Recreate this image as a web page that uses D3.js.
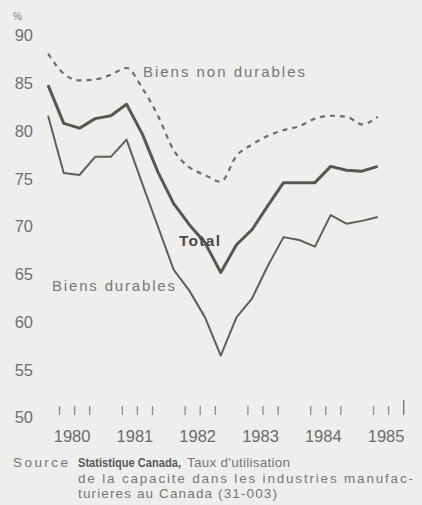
<!DOCTYPE html>
<html>
<head>
<meta charset="utf-8">
<script src="https://cdnjs.cloudflare.com/ajax/libs/d3/7.8.5/d3.min.js"></script>
<style>
    html, body { margin: 0; padding: 0; background: #eeeeec; }
    svg { display: block; font-family: "Liberation Sans", Arial, sans-serif; }
</style>
</head>
<body>
<svg id="chart" width="422" height="505"></svg>
<script>
    // quarterly data, 1980 T1 .. 1985 T2
    const years = [1980, 1981, 1982, 1983, 1984, 1985];
    const yTicks = [50, 55, 60, 65, 70, 75, 80, 85, 90];
    const quarterTickOffsets = [0.3, 0.54, 0.78];

    const total = [84.8, 80.8, 80.3, 81.3, 81.6, 82.8, 79.7, 75.7, 72.4, 70.2, 68.3,
                   65.2, 68.1, 69.7, 72.2, 74.6, 74.6, 74.6, 76.3, 75.9, 75.8, 76.3];
    const durables = [81.6, 75.6, 75.4, 77.3, 77.3, 79.1, 74.5, 70.0, 65.5, 63.3, 60.5,
                      56.5, 60.5, 62.5, 65.9, 68.9, 68.6, 67.9, 71.2, 70.3, 70.6, 71.0];
    const nonDurables = [88.1, 86.0, 85.3, 85.4, 85.9, 86.6, 84.5, 81.6, 78.0, 76.2, 75.4,
                         74.7, 77.4, 78.6, 79.5, 80.1, 80.5, 81.3, 81.6, 81.5, 80.7, 81.5];

    // position of each quarter on the time axis (middle of the quarter)
    const periods = total.map((_, i) => years[0] + Math.floor(i / 4) + ((i % 4) + 0.5) / 4);

    const svg = d3.select('#chart');

    const x = d3.scaleLinear().domain([1980, 1986]).range([40.2, 417]);
    const y = d3.scaleLinear().domain([50, 90]).range([417.7, 35.5]);

    // y axis labels
    svg.append('g')
        .attr('transform', 'translate(35,0)')
        .call(d3.axisLeft(y).tickValues(yTicks).tickSize(0).tickPadding(2))
        .call(g => g.select('.domain').remove())
        .call(g => g.selectAll('text')
            .attr('font-size', 16.5)
            .attr('font-family', '"Liberation Sans", Arial, sans-serif')
            .attr('fill', '#707070'));

    svg.append('text')
        .attr('x', 13).attr('y', 20)
        .attr('font-size', 10)
        .attr('fill', '#808080')
        .text('%');

    // quarter tick marks, grouped by year
    const quarterTicks = years.flatMap(yr => quarterTickOffsets.map(o => yr + o));
    const lastTick = quarterTicks[quarterTicks.length - 1];

    svg.append('g')
        .attr('transform', 'translate(0,415)')
        .call(d3.axisTop(x).tickValues(quarterTicks.slice(0, -1)).tickSize(9).tickFormat(''))
        .call(g => g.select('.domain').remove())
        .call(g => g.selectAll('line').attr('stroke', '#8a8a88').attr('stroke-width', 1.3));

    svg.append('g')
        .attr('transform', 'translate(0,415)')
        .call(d3.axisTop(x).tickValues([lastTick]).tickSize(15).tickFormat(''))
        .call(g => g.select('.domain').remove())
        .call(g => g.selectAll('line').attr('stroke', '#777775').attr('stroke-width', 1.4));

    // year labels
    svg.append('g')
        .attr('transform', 'translate(0,428)')
        .call(d3.axisBottom(x).tickValues(years.map(yr => yr + 0.5)).tickSize(0).tickPadding(2)
            .tickFormat(d => Math.floor(d)))
        .call(g => g.select('.domain').remove())
        .call(g => g.selectAll('text')
            .attr('font-size', 16.5)
            .attr('font-family', '"Liberation Sans", Arial, sans-serif')
            .attr('fill', '#6a6a6a'));

    // series
    const line = d3.line()
        .x((d, i) => x(periods[i]))
        .y(d => y(d));

    svg.append('path')
        .attr('d', line.curve(d3.curveMonotoneX)(nonDurables))
        .attr('fill', 'none')
        .attr('stroke', '#6e6e6c')
        .attr('stroke-width', 2.2)
        .attr('stroke-dasharray', '5,5');

    svg.append('path')
        .attr('d', line.curve(d3.curveLinear)(durables))
        .attr('fill', 'none')
        .attr('stroke', '#60605a')
        .attr('stroke-width', 2)
        .attr('stroke-linejoin', 'round');

    svg.append('path')
        .attr('d', line.curve(d3.curveLinear)(total))
        .attr('fill', 'none')
        .attr('stroke', '#585853')
        .attr('stroke-width', 3)
        .attr('stroke-linejoin', 'round');

    // series labels
    const labels = [
        { text: 'Biens non durables', t: 1981.637, v: 85.7, len: 162, bold: false },
        { text: 'Total', t: 1982.21, v: 68.0, len: 41, bold: true },
        { text: 'Biens durables', t: 1980.188, v: 63.25, len: 123, bold: false }
    ];

    svg.selectAll('.series-label')
        .data(labels)
        .join('text')
        .attr('class', 'series-label')
        .attr('x', d => x(d.t))
        .attr('y', d => y(d.v))
        .attr('font-size', d => d.bold ? 15.5 : 15)
        .attr('font-weight', d => d.bold ? 'bold' : 'normal')
        .attr('fill', d => d.bold ? '#4a4a48' : '#777775')
        .attr('textLength', d => d.len)
        .attr('lengthAdjust', 'spacing')
        .text(d => d.text);

    // source note
    const note = svg.append('g').attr('font-size', 13.5).attr('fill', '#777775');

    note.append('text').attr('x', 13).attr('y', 467)
        .attr('textLength', 55).attr('lengthAdjust', 'spacing')
        .text('Source');
    note.append('text').attr('x', 78).attr('y', 467)
        .attr('font-weight', 'bold').attr('fill', '#5a5a58').attr('font-size', 12.5)
        .attr('textLength', 103).attr('lengthAdjust', 'spacingAndGlyphs')
        .text('Statistique Canada,');
    note.append('text').attr('x', 187).attr('y', 467)
        .attr('textLength', 103).attr('lengthAdjust', 'spacing')
        .text("Taux d'utilisation");
    note.append('text').attr('x', 78).attr('y', 482.5)
        .attr('textLength', 335).attr('lengthAdjust', 'spacing')
        .text('de la capacite dans les industries manufac-');
    note.append('text').attr('x', 78).attr('y', 498)
        .attr('textLength', 199).attr('lengthAdjust', 'spacing')
        .text('turieres au Canada (31-003)');
</script>
</body>
</html>
